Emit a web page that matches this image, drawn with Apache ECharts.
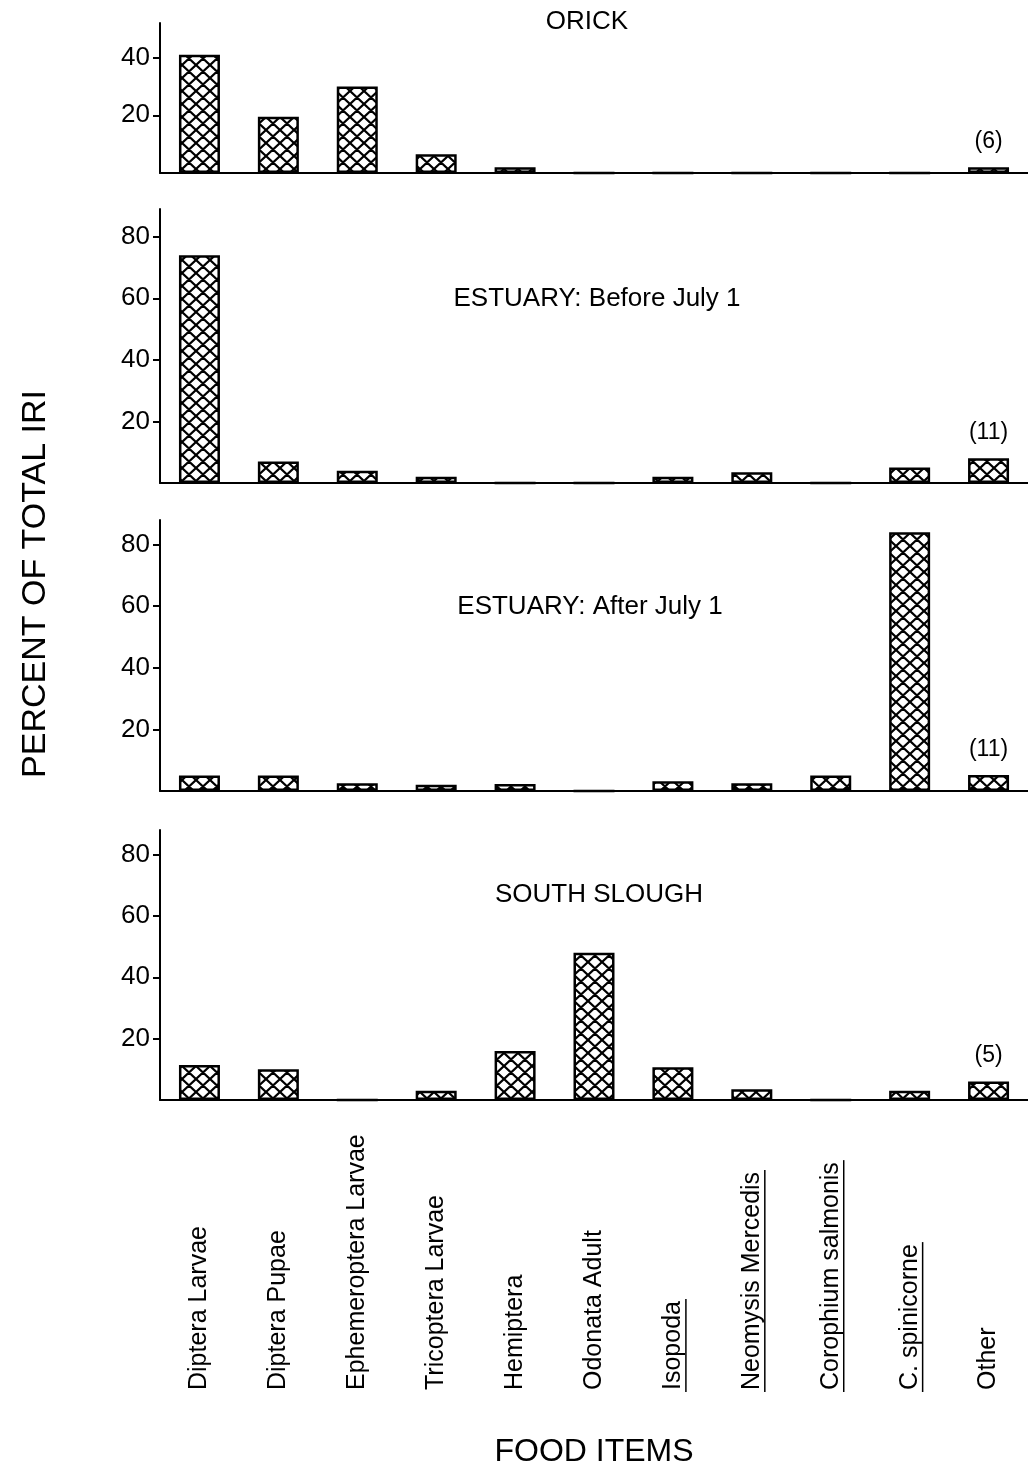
<!DOCTYPE html>
<html lang="en">
<head>
    <meta charset="UTF-8">
    <title>Percent of total IRI by food item</title>
    <script src="https://cdn.jsdelivr.net/npm/echarts@6/dist/echarts.min.js"></script>
</head>
<body style="margin:0;background:#fff;">
    <div id="main" style="width: 1028px; height: 1466px;"></div>
    <script>
        // categories (x axis)
        var foodItems = ['Diptera Larvae', 'Diptera Pupae', 'Ephemeroptera Larvae', 'Tricoptera Larvae', 'Hemiptera',
            'Odonata Adult', 'Isopoda', 'Neomysis Mercedis', 'Corophium salmonis', 'C. spinicorne', 'Other'];
        var underlined = ['Isopoda', 'Neomysis Mercedis', 'Corophium salmonis', 'C. spinicorne'];

        // panels
        var panelTitles = ['ORICK', 'ESTUARY: Before July 1', 'ESTUARY: After July 1', 'SOUTH SLOUGH'];
        var otherCounts = [6, 11, 11, 5]; // number of items lumped into "Other"

        // percent of total IRI
        var orick         = [41, 19.5, 30, 6.5, 2, 0, 0, 0, 0, 0, 2];
        var estuaryBefore = [74, 7, 4, 2, 0, 0, 2, 3.5, 0, 5, 8];
        var estuaryAfter  = [5, 5, 2.5, 2, 2.3, 0, 3.2, 2.5, 5, 84, 5.2];
        var southSlough   = [11.4, 10, 0, 3, 16, 48, 10.7, 3.5, 0, 3, 6];

        // tick labels on each y axis
        var yTicks = [
            [20, 40],
            [20, 40, 60, 80],
            [20, 40, 60, 80],
            [20, 40, 60, 80]
        ];

        var panels = [orick, estuaryBefore, estuaryAfter, southSlough];

        // layout
        var gridTop = [23, 209, 520, 830];
        var gridHeight = [150, 274, 271, 270];
        var yMax = [52, 89, 88, 88];
        var titlePos = [[587, 22], [597, 299], [590, 607], [599, 895]];
        var FONT = '"Liberation Sans", Arial, Helvetica, sans-serif';
        var LABEL_SIZE = 25;

        // cross-hatch fill
        function makeHatch() {
            var w = 14, h = 13;
            var c = document.createElement('canvas');
            c.width = w; c.height = h;
            var g = c.getContext('2d');
            g.fillStyle = '#fff';
            g.fillRect(0, 0, w, h);
            g.strokeStyle = '#000';
            g.lineWidth = 2.2;
            g.beginPath();
            for (var k = -1; k <= 1; k++) {
                g.moveTo(k * w, 0); g.lineTo(k * w + w, h);
                g.moveTo(k * w + w, 0); g.lineTo(k * w, h);
            }
            g.stroke();
            return c;
        }
        var hatch = makeHatch();

        var chartDom = document.getElementById('main');
        var myChart = echarts.init(chartDom);

        var grids = [], xAxes = [], yAxes = [], series = [], graphics = [];

        panels.forEach(function (vals, i) {
            var last = i === panels.length - 1;
            grids.push({
                left: 160, right: 0, top: gridTop[i], height: gridHeight[i],
                outerBoundsMode: 'none'
            });
            xAxes.push({
                type: 'category',
                gridIndex: i,
                data: foodItems,
                axisLine: { lineStyle: { color: '#000', width: 2 } },
                axisTick: { show: false },
                axisLabel: {
                    show: last,
                    interval: 0,
                    rotate: 90,
                    align: 'left',
                    margin: 290,
                    color: '#000',
                    fontFamily: FONT,
                    fontSize: LABEL_SIZE
                },
                name: last ? 'FOOD ITEMS' : '',
                nameLocation: 'middle',
                nameGap: 336,
                nameTextStyle: { color: '#000', fontFamily: FONT, fontSize: 32 }
            });
            yAxes.push({
                type: 'value',
                gridIndex: i,
                min: 0,
                max: yMax[i],
                splitLine: { show: false },
                axisLine: { show: true, lineStyle: { color: '#000', width: 2 } },
                axisTick: { show: true, length: 7, customValues: yTicks[i], lineStyle: { color: '#000', width: 2 } },
                axisLabel: { customValues: yTicks[i], margin: 10, color: '#000', fontFamily: FONT, fontSize: 26 }
            });
            series.push({
                type: 'bar',
                xAxisIndex: i,
                yAxisIndex: i,
                barWidth: 41,
                silent: true,
                itemStyle: {
                    color: { image: hatch, repeat: 'repeat' },
                    borderColor: '#000',
                    borderWidth: 2.5
                },
                data: vals.map(function (v, j) {
                    if (foodItems[j] !== 'Other') return v;
                    return {
                        value: v,
                        label: {
                            show: true,
                            position: 'top',
                            distance: 14,
                            formatter: '(' + otherCounts[i] + ')',
                            color: '#000',
                            fontFamily: FONT,
                            fontSize: 23
                        }
                    };
                })
            });
            graphics.push({
                type: 'text',
                x: titlePos[i][0],
                y: titlePos[i][1],
                style: {
                    text: panelTitles[i],
                    font: '26px ' + FONT,
                    fill: '#000',
                    align: 'center',
                    verticalAlign: 'middle'
                }
            });
        });

        graphics.push({
            type: 'text',
            x: 36,
            y: 584,
            rotation: Math.PI / 2,
            style: {
                text: 'PERCENT OF TOTAL IRI',
                font: '34px ' + FONT,
                fill: '#000',
                align: 'center',
                verticalAlign: 'middle'
            }
        });

        var option = {
            backgroundColor: '#fff',
            animation: false,
            grid: grids,
            xAxis: xAxes,
            yAxis: yAxes,
            series: series,
            graphic: graphics
        };

        option && myChart.setOption(option);

        // underline the crustacean names (rotated labels -> line on the right side)
        var measure = document.createElement('canvas').getContext('2d');
        measure.font = LABEL_SIZE + 'px ' + FONT;
        var bottom = 1100 + 290;
        underlined.forEach(function (name) {
            var x = myChart.convertToPixel({ xAxisIndex: 3 }, name) + 13;
            var w = measure.measureText(name).width;
            graphics.push({
                type: 'line',
                shape: { x1: x, y1: bottom + 2, x2: x, y2: bottom - w - 2 },
                style: { stroke: '#000', lineWidth: 1.5 }
            });
        });
        myChart.setOption({ graphic: graphics });
    </script>
</body>
</html>
